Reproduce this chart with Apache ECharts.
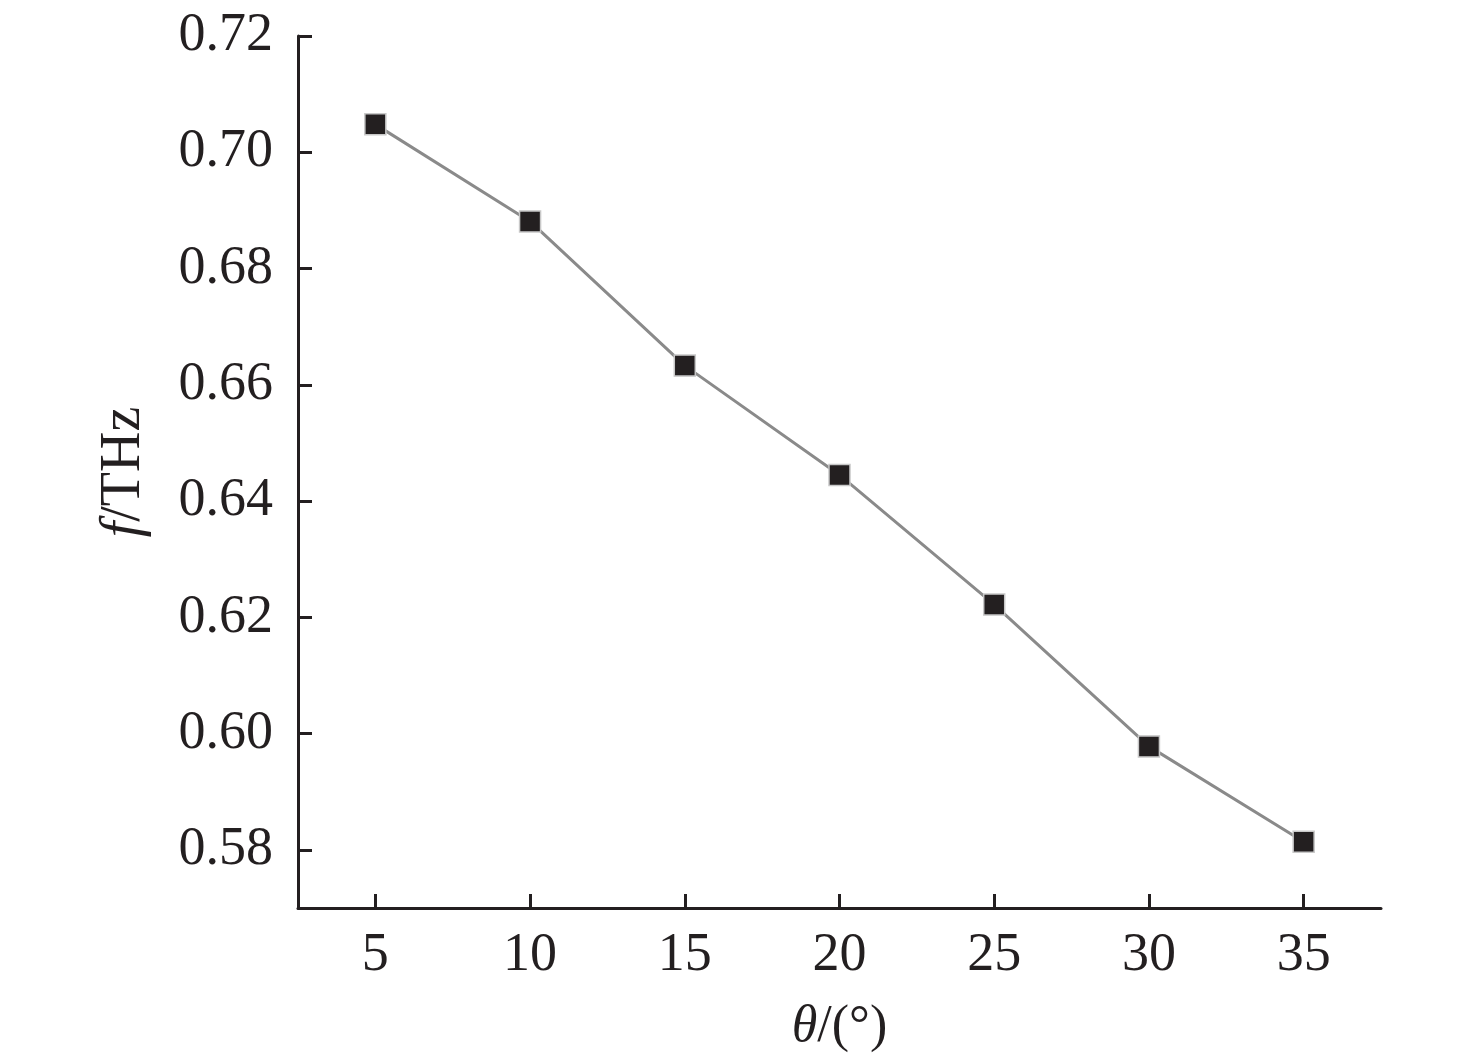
<!DOCTYPE html>
<html><head><meta charset="utf-8">
<script src="https://cdn.jsdelivr.net/npm/echarts@6/dist/echarts.min.js"></script>
<style>html,body{margin:0;padding:0;background:#fff}#c{width:1476px;height:1059px}</style>
</head><body><div id="c"></div>
<script>
const angles = [5, 10, 15, 20, 25, 30, 35];
const freqs = [0.7048, 0.6881, 0.6633, 0.6445, 0.6222, 0.5978, 0.5814];
const xTicks = [5, 10, 15, 20, 25, 30, 35];
const yTicks = [0.58, 0.60, 0.62, 0.64, 0.66, 0.68, 0.70, 0.72];

const font = "'Liberation Serif', 'Times New Roman', serif";
const chart = echarts.init(document.getElementById('c'));
chart.setOption({
  animation: false,
  backgroundColor: '#fff',
  grid: { left: 298, top: 36, right: 95, bottom: 151 },
  xAxis: {
    type: 'value', min: 2.5, max: 37.5,
    splitLine: { show: false },
    axisLine: { lineStyle: { color: '#231f20', width: 3 } },
    axisTick: { inside: true, length: 14, lineStyle: { color: '#231f20', width: 3 }, customValues: xTicks },
    axisLabel: { customValues: xTicks, fontFamily: font, fontSize: 54, color: '#231f20', margin: 21 },
    name: '{i|θ}/(°)', nameLocation: 'middle', nameGap: 93,
    nameTextStyle: { fontFamily: font, fontSize: 52, color: '#231f20',
      rich: { i: { fontFamily: font, fontStyle: 'italic', fontSize: 52, color: '#231f20' } } }
  },
  yAxis: {
    type: 'value', min: 0.57, max: 0.72,
    splitLine: { show: false },
    axisLine: { lineStyle: { color: '#231f20', width: 3 } },
    axisTick: { inside: true, length: 14, lineStyle: { color: '#231f20', width: 3 }, customValues: yTicks },
    axisLabel: { customValues: yTicks, fontFamily: font, fontSize: 54, color: '#231f20', margin: 25,
      formatter: v => v.toFixed(2) },
    name: '{i|f}/THz', nameLocation: 'middle', nameGap: 146, nameRotate: 90,
    nameTextStyle: { fontFamily: font, fontSize: 56, color: '#231f20',
      rich: { i: { fontFamily: font, fontStyle: 'italic', fontSize: 56, color: '#231f20' } } }
  },
  series: [{
    type: 'line',
    data: angles.map((a, i) => [a, freqs[i]]),
    symbol: 'rect', symbolSize: 21,
    lineStyle: { color: '#8a8a8a', width: 3 },
    itemStyle: { color: '#231f20', borderColor: '#c8c8c8', borderWidth: 1.5 }
  }]
});
</script></body></html>
